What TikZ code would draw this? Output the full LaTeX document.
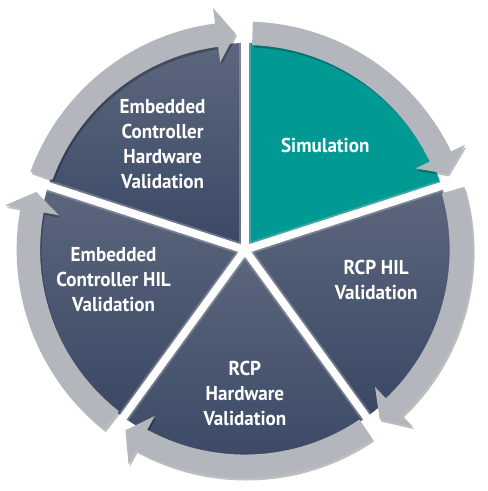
\documentclass[tikz,border=0pt]{standalone}
\usepackage{fontspec}
\setmainfont{PT Sans}
\newfontfamily\lblfont{PT Sans}[FakeStretch=0.95]
\usetikzlibrary{shadows}
\definecolor{wtop}{HTML}{5C677D}
\definecolor{wbot}{HTML}{3A4865}
\definecolor{simteal}{HTML}{009993}
\definecolor{arrgray}{HTML}{B3B6BD}
\newcommand\cyclearrow[2]{%
  \pgfmathsetmacro\hb{#2+5}%
  \fill[arrowband] (#1:233) arc[start angle=#1, end angle=\hb, radius=233]
    -- (\hb:249) -- (#2:221) -- (\hb:193) -- (\hb:209)
    arc[start angle=\hb, end angle=#1, radius=209] -- cycle;}
\begin{document}
\begin{tikzpicture}[x=1pt,y=1pt,
  wedge/.style={top color=wtop, bottom color=wbot, draw=none},
  arrowband/.style={fill=arrgray, drop shadow={shadow xshift=1.5pt, shadow yshift=-2.5pt, opacity=.25, fill=black}},
  lbl/.style={text=white, align=center, inner sep=0pt, font=\lblfont\bfseries\fontsize{20.5}{25.5}\selectfont},
  gapglow/.style={draw=black!25, line width=12pt, opacity=.35},
  gapline/.style={draw=white, line width=8pt}]
\fill[white] (-250,-236) rectangle (234,255);
\coordinate (c) at (0,0);
% wedges
\shade[wedge] (c) -- (162:211) arc[start angle=162, end angle=90, radius=211] -- cycle;
\fill[simteal] (c) -- (90:211) arc[start angle=90, end angle=18, radius=211] -- cycle;
\shade[wedge] (c) -- (18:211) arc[start angle=18, end angle=-54, radius=211] -- cycle;
\shade[wedge] (c) -- (-54:211) arc[start angle=-54, end angle=-126, radius=211] -- cycle;
\shade[wedge] (c) -- (-126:211) arc[start angle=-126, end angle=-198, radius=211] -- cycle;
% gaps between wedges
\foreach \a in {90,18,-54,-126,162} \draw[gapglow] (c) -- (\a:212);
\foreach \a in {90,18,-54,-126,162} \draw[gapline] (c) -- (\a:214);
% cycle arrows
\cyclearrow{160}{92.5}
\cyclearrow{88}{20.5}
\cyclearrow{16}{-51.5}
\cyclearrow{-56}{-123.5}
\cyclearrow{-128}{-195.5}
% labels
\node[lbl] (ech) at (-84,108) {Embedded\\Controller\\Hardware\\Validation};
\node[lbl] (sim) at (82,107) {Simulation};
\node[lbl] (rhil) at (134,-30.5) {RCP HIL\\Validation};
\node[lbl] (rhw) at (0,-146.5) {RCP\\Hardware\\Validation};
\node[lbl] (ehil) at (-134,-30) {Embedded\\Controller HIL\\Validation};
\end{tikzpicture}
\end{document}
